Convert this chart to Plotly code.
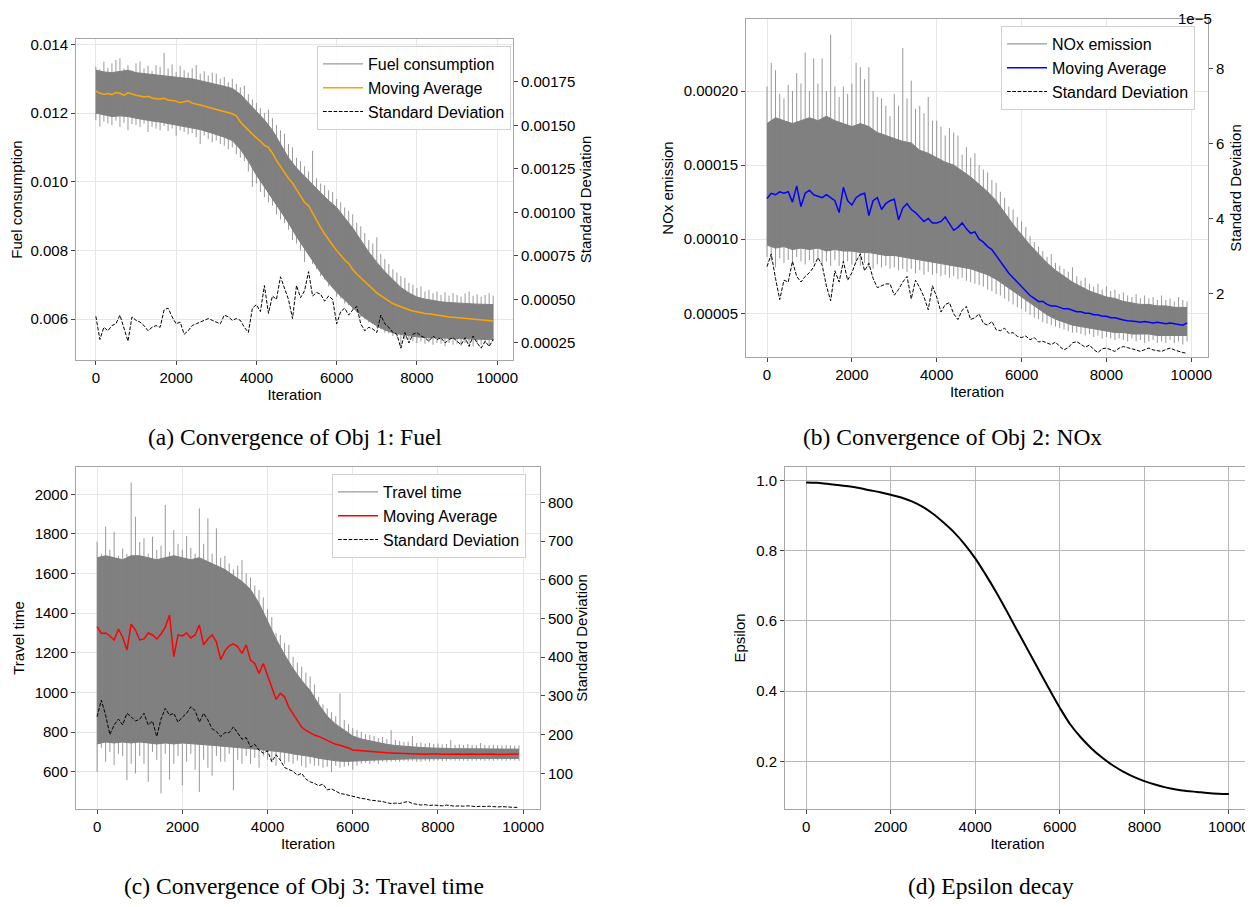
import plotly.graph_objects as go

# iteration grids
it200 = list(range(0, 9801, 200)) + [9900]
it100 = list(range(0, 9901, 100))
eps_iter = list(range(0, 10001, 250))

# ---- (a) fuel ----
# dense core of the raw series (every 200 iterations)
fuel_upper = [0.01325, 0.01320, 0.01318, 0.01322, 0.01325, 0.01318, 0.01315, 0.01312, 0.01310, 0.01308,
              0.01305, 0.01302, 0.01300, 0.01295, 0.01290, 0.01283, 0.01278, 0.01272, 0.01255, 0.01230,
              0.01205, 0.01180, 0.01150, 0.01110, 0.01070, 0.01040, 0.01015, 0.00990, 0.00968, 0.00945,
              0.00925, 0.00895, 0.00865, 0.00830, 0.00795, 0.00765, 0.00738, 0.00715, 0.00692, 0.00676,
              0.00664, 0.00658, 0.00653, 0.00650, 0.00648, 0.00646, 0.00645, 0.00644, 0.00643, 0.00642, 0.00642]
fuel_lower = [0.01200, 0.01195, 0.01190, 0.01192, 0.01190, 0.01185, 0.01180, 0.01177, 0.01174, 0.01170,
              0.01166, 0.01162, 0.01158, 0.01152, 0.01145, 0.01138, 0.01130, 0.01120, 0.01095, 0.01060,
              0.01020, 0.00985, 0.00950, 0.00915, 0.00880, 0.00840, 0.00805, 0.00770, 0.00735, 0.00705,
              0.00678, 0.00655, 0.00633, 0.00612, 0.00595, 0.00580, 0.00568, 0.00560, 0.00555, 0.00551,
              0.00548, 0.00546, 0.00545, 0.00544, 0.00543, 0.00542, 0.00542, 0.00541, 0.00541, 0.00540, 0.00540]
# spike extremes of the raw series (every 100 iterations)
fuel_max = [0.01335, 0.01328, 0.01350, 0.01332, 0.01345, 0.01355, 0.01360, 0.01330, 0.01340, 0.01325,
            0.01345, 0.01350, 0.01330, 0.01338, 0.01322, 0.01340, 0.01335, 0.01375, 0.01330, 0.01342,
            0.01320, 0.01338, 0.01325, 0.01318, 0.01330, 0.01340, 0.01315, 0.01322, 0.01310, 0.01318,
            0.01315, 0.01300, 0.01305, 0.01290, 0.01300, 0.01285, 0.01275, 0.01280, 0.01255, 0.01240,
            0.01230, 0.01215, 0.01200, 0.01210, 0.01185, 0.01165, 0.01150, 0.01140, 0.01110, 0.01100,
            0.01070, 0.01060, 0.01045, 0.01030, 0.01090, 0.01010, 0.00995, 0.00990, 0.00975, 0.00970,
            0.00950, 0.00940, 0.00925, 0.00915, 0.00905, 0.00880, 0.00870, 0.00850, 0.00830, 0.00820,
            0.00838, 0.00790, 0.00775, 0.00760, 0.00745, 0.00735, 0.00725, 0.00720, 0.00705, 0.00700,
            0.00690, 0.00695, 0.00680, 0.00685, 0.00675, 0.00680, 0.00670, 0.00678, 0.00668, 0.00675,
            0.00670, 0.00665, 0.00675, 0.00680, 0.00668, 0.00672, 0.00665, 0.00670, 0.00675, 0.00668]
fuel_min = [0.01180, 0.01160, 0.01175, 0.01170, 0.01165, 0.01178, 0.01160, 0.01172, 0.01150, 0.01168,
            0.01165, 0.01160, 0.01170, 0.01145, 0.01160, 0.01155, 0.01150, 0.01162, 0.01148, 0.01155,
            0.01135, 0.01150, 0.01145, 0.01138, 0.01142, 0.01130, 0.01110, 0.01135, 0.01125, 0.01115,
            0.01120, 0.01110, 0.01105, 0.01095, 0.01100, 0.01080, 0.01070, 0.01060, 0.01030, 0.00985,
            0.00995, 0.00970, 0.00955, 0.00940, 0.00930, 0.00905, 0.00890, 0.00880, 0.00860, 0.00830,
            0.00820, 0.00800, 0.00766, 0.00790, 0.00760, 0.00745, 0.00725, 0.00715, 0.00695, 0.00690,
            0.00665, 0.00660, 0.00645, 0.00640, 0.00625, 0.00620, 0.00605, 0.00600, 0.00590, 0.00585,
            0.00575, 0.00570, 0.00560, 0.00558, 0.00550, 0.00548, 0.00515, 0.00540, 0.00538, 0.00535,
            0.00530, 0.00535, 0.00528, 0.00532, 0.00525, 0.00530, 0.00528, 0.00520, 0.00530, 0.00525,
            0.00528, 0.00522, 0.00530, 0.00525, 0.00520, 0.00528, 0.00525, 0.00530, 0.00522, 0.00535]
fuel_ma = [0.01264, 0.01258, 0.01255, 0.01257, 0.01254, 0.01260, 0.01258, 0.01252, 0.01259, 0.01255,
           0.01252, 0.01250, 0.01247, 0.01249, 0.01244, 0.01242, 0.01241, 0.01243, 0.01238, 0.01237,
           0.01235, 0.01230, 0.01232, 0.01236, 0.01229, 0.01227, 0.01224, 0.01221, 0.01217, 0.01214,
           0.01210, 0.01208, 0.01205, 0.01200, 0.01198, 0.01192, 0.01175, 0.01162, 0.01150, 0.01140,
           0.01128, 0.01118, 0.01106, 0.01100, 0.01083, 0.01062, 0.01044, 0.01028, 0.01010, 0.00996,
           0.00978, 0.00958, 0.00940, 0.00930, 0.00908, 0.00888, 0.00867, 0.00848, 0.00830, 0.00815,
           0.00800, 0.00785, 0.00772, 0.00762, 0.00744, 0.00731, 0.00720, 0.00709, 0.00697, 0.00687,
           0.00676, 0.00668, 0.00660, 0.00652, 0.00645, 0.00640, 0.00635, 0.00631, 0.00627, 0.00623,
           0.00620, 0.00618, 0.00616, 0.00615, 0.00613, 0.00610, 0.00609, 0.00608, 0.00606, 0.00605,
           0.00604, 0.00603, 0.00602, 0.00600, 0.00600, 0.00599, 0.00598, 0.00597, 0.00596, 0.00594]
fuel_std = [0.000403, 0.00027, 0.00034, 0.00032, 0.00035, 0.00036, 0.00041, 0.00033, 0.00026, 0.00040,
            0.00038, 0.00037, 0.00035, 0.00032, 0.00034, 0.00035, 0.00034, 0.00044, 0.00045, 0.00040,
            0.00036, 0.00037, 0.00030, 0.00032, 0.00035, 0.00036, 0.00037, 0.00038, 0.00039, 0.00038,
            0.00037, 0.00036, 0.00041, 0.00040, 0.00038, 0.00039, 0.00038, 0.00034, 0.00031, 0.00045,
            0.00047, 0.00043, 0.00058, 0.00042, 0.00052, 0.00050, 0.00063, 0.00056, 0.00050, 0.00039,
            0.00058, 0.00051, 0.00055, 0.00066, 0.00052, 0.00054, 0.00053, 0.00049, 0.00052, 0.00050,
            0.00036, 0.00043, 0.00045, 0.00041, 0.00044, 0.00046, 0.00036, 0.00032, 0.00034, 0.00033,
            0.00031, 0.00041, 0.00036, 0.00034, 0.00031, 0.00030, 0.00022, 0.00031, 0.00025, 0.00030,
            0.00031, 0.00029, 0.00028, 0.00026, 0.00029, 0.00027, 0.00028, 0.00025, 0.00027, 0.00028,
            0.00026, 0.00024, 0.00028, 0.00023, 0.00029, 0.00025, 0.00022, 0.00026, 0.00023, 0.00027]

# ---- (b) NOx ----
nox_upper = [0.000178, 0.000182, 0.000180, 0.000178, 0.000180, 0.000182, 0.000180, 0.000183, 0.000180, 0.000178,
             0.000176, 0.000178, 0.000176, 0.000172, 0.000170, 0.000168, 0.000166, 0.000165, 0.000160, 0.000158,
             0.000155, 0.000152, 0.000150, 0.000146, 0.000142, 0.000137, 0.000132, 0.000126, 0.000118, 0.000110,
             0.000103, 0.000096, 0.000090, 0.000084, 0.000079, 0.000075, 0.000071, 0.000068, 0.000065, 0.000063,
             0.000061, 0.000060, 0.000058, 0.000057, 0.000056, 0.000056, 0.000055, 0.000055, 0.000054, 0.000054, 0.000054]
nox_lower = [0.000096, 0.000094, 0.000095, 0.000093, 0.000094, 0.000093, 0.000094, 0.000092, 0.000093, 0.000092,
             0.000092, 0.000091, 0.000091, 0.000090, 0.000089, 0.000089, 0.000088, 0.000087, 0.000086, 0.000085,
             0.000084, 0.000083, 0.000082, 0.000081, 0.000080, 0.000078, 0.000076, 0.000073, 0.000069, 0.000065,
             0.000061, 0.000057, 0.000053, 0.000049, 0.000046, 0.000044, 0.000042, 0.000041, 0.000040, 0.000039,
             0.000038, 0.000037, 0.000037, 0.000036, 0.000036, 0.000036, 0.000035, 0.000035, 0.000035, 0.000035, 0.000035]
nox_max = [0.000203, 0.000219, 0.000214, 0.000198, 0.000195, 0.000204, 0.000200, 0.000212, 0.000205, 0.000226,
           0.000200, 0.000222, 0.000205, 0.000222, 0.000200, 0.000238, 0.000203, 0.000196, 0.000203, 0.000198,
           0.000205, 0.000219, 0.000216, 0.000208, 0.000216, 0.000200, 0.000196, 0.000195, 0.000190, 0.000183,
           0.000198, 0.000190, 0.000229, 0.000195, 0.000207, 0.000188, 0.000190, 0.000185, 0.000196, 0.000180,
           0.000180, 0.000176, 0.000170, 0.000175, 0.000172, 0.000170, 0.000157, 0.000162, 0.000155, 0.000158,
           0.000150, 0.000147, 0.000145, 0.000140, 0.000138, 0.000132, 0.000128, 0.000122, 0.000120, 0.000115,
           0.000112, 0.000108, 0.000102, 0.000098, 0.000095, 0.000092, 0.000088, 0.000090, 0.000084, 0.000082,
           0.000080, 0.000078, 0.000081, 0.000075, 0.000072, 0.000074, 0.000070, 0.000068, 0.000070, 0.000066,
           0.000068, 0.000065, 0.000066, 0.000063, 0.000064, 0.000062, 0.000061, 0.000063, 0.000060, 0.000062,
           0.000060, 0.000061, 0.000059, 0.000062, 0.000059, 0.000060, 0.000058, 0.000061, 0.000059, 0.000058]
nox_min = [0.000088, 0.000085, 0.000081, 0.000087, 0.000084, 0.000086, 0.000083, 0.000088, 0.000085, 0.000083,
           0.000086, 0.000084, 0.000087, 0.000083, 0.000085, 0.000082, 0.000086, 0.000082, 0.000084, 0.000085,
           0.000083, 0.000085, 0.000082, 0.000084, 0.000081, 0.000080, 0.000083, 0.000081, 0.000082, 0.000080,
           0.000081, 0.000079, 0.000080, 0.000078, 0.000080, 0.000077, 0.000079, 0.000076, 0.000078, 0.000076,
           0.000077, 0.000075, 0.000076, 0.000074, 0.000075, 0.000073, 0.000074, 0.000072, 0.000071, 0.000070,
           0.000069, 0.000068, 0.000066, 0.000065, 0.000063, 0.000062, 0.000060, 0.000058, 0.000056, 0.000054,
           0.000053, 0.000051, 0.000049, 0.000047, 0.000046, 0.000044, 0.000043, 0.000042, 0.000041, 0.000040,
           0.000039, 0.000038, 0.000037, 0.000037, 0.000036, 0.000035, 0.000036, 0.000034, 0.000035, 0.000033,
           0.000034, 0.000033, 0.000032, 0.000033, 0.000032, 0.000031, 0.000033, 0.000031, 0.000032, 0.000030,
           0.000031, 0.000032, 0.000030, 0.000031, 0.000030, 0.000032, 0.000030, 0.000031, 0.000029, 0.000031]
nox_ma = [0.0001275, 0.000131, 0.000130, 0.000132, 0.000131, 0.000132, 0.000125, 0.000136, 0.000122, 0.000131,
          0.000133, 0.000130, 0.000129, 0.000128, 0.000130, 0.000128, 0.000126, 0.000118, 0.000135, 0.000126,
          0.000123, 0.000128, 0.000130, 0.000131, 0.000116, 0.000126, 0.000128, 0.000120, 0.000124, 0.000126,
          0.000127, 0.000113, 0.000121, 0.000124, 0.000120, 0.000118, 0.000115, 0.000112, 0.000114, 0.000111,
          0.000111, 0.000112, 0.000115, 0.000110, 0.000106, 0.000108, 0.000111, 0.000107, 0.000104, 0.000105,
          0.000100, 0.000098, 0.000095, 0.000093, 0.000089, 0.000085, 0.000081, 0.000077, 0.000074, 0.000071,
          0.000068, 0.000065, 0.000062, 0.000060, 0.000058, 0.000058, 0.000056, 0.000055, 0.000055, 0.000054,
          0.000053, 0.000053, 0.000052, 0.000051, 0.000051, 0.000050, 0.000050, 0.000049, 0.000049, 0.000048,
          0.000048, 0.000047, 0.000047, 0.000046, 0.0000455, 0.000045, 0.000045, 0.0000445, 0.000044, 0.0000445,
          0.000044, 0.0000435, 0.000044, 0.0000435, 0.000043, 0.0000435, 0.000043, 0.0000425, 0.000042, 0.0000435]
# std in units of 1e-5 (as on the right axis)
nox_std = [2.71, 3.05, 2.40, 1.83, 2.35, 2.30, 2.85, 2.45, 2.30, 2.45,
           2.55, 2.70, 2.95, 2.75, 2.20, 1.80, 2.60, 2.30, 2.85, 2.35,
           2.55, 2.85, 3.05, 2.60, 2.80, 2.40, 2.15, 2.20, 2.25, 2.25,
           1.95, 2.10, 2.30, 2.45, 1.85, 2.35, 2.15, 1.90, 1.56, 2.20,
           1.90, 1.50, 1.70, 1.75, 1.45, 1.30, 1.55, 1.65, 1.30, 1.35,
           1.45, 1.20, 1.15, 1.25, 1.03, 1.00, 1.07, 0.93, 0.95, 0.85,
           0.82, 0.86, 0.76, 0.82, 0.70, 0.72, 0.68, 0.63, 0.70, 0.58,
           0.49, 0.55, 0.68, 0.71, 0.64, 0.56, 0.62, 0.50, 0.42, 0.52,
           0.54, 0.50, 0.45, 0.54, 0.58, 0.55, 0.53, 0.49, 0.45, 0.49,
           0.54, 0.49, 0.46, 0.45, 0.50, 0.54, 0.49, 0.45, 0.42, 0.40]

# ---- (c) travel time ----
tt_upper = [1680, 1690, 1680, 1670, 1690, 1690, 1680, 1670, 1680, 1690,
            1680, 1670, 1680, 1660, 1640, 1620, 1590, 1560, 1520, 1450,
            1360, 1270, 1190, 1120, 1060, 1010, 940, 880, 840, 810,
            780, 765, 755, 745, 738, 732, 728, 725, 722, 720,
            718, 717, 716, 716, 715, 715, 714, 714, 714, 714, 714]
tt_lower = [740, 750, 745, 750, 745, 750, 745, 740, 745, 740,
            745, 740, 738, 735, 732, 728, 725, 720, 716, 712,
            708, 703, 698, 690, 684, 677, 668, 660, 655, 652,
            652, 655, 658, 660, 662, 663, 664, 665, 665, 666,
            666, 667, 667, 667, 667, 667, 667, 667, 667, 667, 667]
tt_max = [1761, 1700, 1837, 1720, 1811, 1690, 1727, 1700, 2059, 1887,
          1760, 1778, 1700, 1786, 1720, 1740, 1946, 1710, 1820, 1750,
          1720, 1790, 1730, 1700, 1929, 1750, 1879, 1700, 1828, 1680,
          1690, 1650, 1620, 1640, 1668, 1600, 1580, 1540, 1517, 1480,
          1420, 1380, 1300, 1290, 1250, 1240, 1180, 1150, 1130, 1100,
          1080, 1040, 978, 940, 920, 900, 880, 995, 860, 840,
          820, 810, 800, 790, 785, 780, 770, 775, 765, 810,
          760, 755, 750, 752, 780, 745, 748, 742, 745, 740,
          742, 738, 740, 760, 736, 738, 735, 740, 736, 734,
          745, 735, 733, 736, 734, 732, 735, 733, 731, 733]
tt_min = [599, 720, 650, 700, 633, 690, 680, 557, 640, 591,
          680, 640, 549, 700, 660, 490, 690, 560, 640, 680,
          532, 650, 690, 610, 498, 660, 620, 580, 680, 650,
          650, 690, 507, 660, 640, 680, 640, 670, 620, 680,
          660, 650, 630, 660, 640, 650, 640, 655, 630, 620,
          640, 630, 630, 620, 625, 599, 630, 620, 625, 630,
          610, 630, 640, 645, 640, 648, 640, 650, 648, 650,
          652, 650, 655, 652, 655, 650, 650, 655, 652, 655,
          656, 654, 655, 657, 655, 655, 656, 654, 656, 655,
          657, 655, 656, 655, 657, 656, 655, 657, 656, 655]
tt_ma = [1332, 1298, 1300, 1285, 1265, 1320, 1280, 1214, 1345, 1315,
         1265, 1270, 1300, 1290, 1270, 1295, 1330, 1390, 1180, 1290,
         1285, 1300, 1275, 1290, 1340, 1240, 1270, 1290, 1255, 1165,
         1210, 1235, 1245, 1230, 1197, 1240, 1163, 1146, 1096, 1146,
         1085, 1030, 965, 995, 978, 925, 890, 855, 825, 808,
         795, 785, 778, 768, 758, 748, 738, 733, 728, 720,
         710, 708, 707, 703, 700, 699, 697, 696, 695, 694,
         693, 692, 692, 690, 689, 691, 690, 688, 689, 690,
         689, 688, 689, 690, 688, 689, 688, 690, 689, 688,
         689, 690, 688, 689, 687, 688, 689, 690, 688, 689]
tt_std = [246, 289, 250, 200, 225, 240, 225, 255, 246, 235,
          240, 255, 225, 235, 195, 240, 268, 250, 255, 232,
          245, 255, 272, 262, 232, 255, 238, 215, 208, 195,
          205, 205, 220, 205, 188, 192, 168, 175, 160, 152,
          158, 130, 148, 134, 115, 110, 105, 95, 100, 85,
          78, 74, 68, 72, 57, 60, 55, 48, 46, 44,
          40, 38, 35, 34, 31, 30, 28, 27, 24, 22,
          23, 22, 25, 27, 22, 19, 18, 19, 17, 18,
          17, 16, 18, 16, 15, 16, 15, 16, 15, 14,
          15, 14, 15, 14, 13, 14, 13, 13, 12, 12]

# ---- (d) epsilon ----
eps = [0.994, 0.993, 0.990, 0.987, 0.983, 0.978, 0.972, 0.966, 0.959, 0.951,
       0.940, 0.925, 0.905, 0.880, 0.852, 0.818, 0.778, 0.731, 0.681, 0.627,
       0.571, 0.516, 0.461, 0.406, 0.353, 0.305, 0.268, 0.237, 0.211, 0.189,
       0.171, 0.156, 0.144, 0.134, 0.126, 0.120, 0.116, 0.113, 0.110, 0.108, 0.107]

GRAY = '#808080'
DASH = '3.7px,1.6px'


def spikes(lo, hi):
    px, py = [], []
    for x, a, b in zip(it100, lo, hi):
        px += [x, x, None]
        py += [a, b, None]
    return px, py


def add_panel(fig, xa, ya, ya2, leg, raw_name, upper, lower, mn, mx, ma, ma_col, std):
    fig.add_trace(go.Scatter(x=it200, y=upper, mode='lines', line=dict(color=GRAY, width=1),
                             name=raw_name, legend=leg, xaxis=xa, yaxis=ya))
    fig.add_trace(go.Scatter(x=it200, y=lower, mode='lines', line=dict(color=GRAY, width=1),
                             fill='tonexty', fillcolor=GRAY, showlegend=False, xaxis=xa, yaxis=ya))
    px, py = spikes(mn, mx)
    fig.add_trace(go.Scatter(x=px, y=py, mode='lines', line=dict(color='rgba(128,128,128,0.8)', width=1),
                             showlegend=False, xaxis=xa, yaxis=ya))
    fig.add_trace(go.Scatter(x=it100, y=ma, mode='lines', line=dict(color=ma_col, width=1.5),
                             name='Moving Average', legend=leg, xaxis=xa, yaxis=ya))
    fig.add_trace(go.Scatter(x=it100, y=std, mode='lines', line=dict(color='black', width=1, dash=DASH),
                             name='Standard Deviation', legend=leg, xaxis=xa, yaxis=ya2))


fig = go.Figure()
add_panel(fig, 'x', 'y', 'y2', 'legend', 'Fuel consumption', fuel_upper, fuel_lower,
          fuel_min, fuel_max, fuel_ma, '#FFA500', fuel_std)
add_panel(fig, 'x2', 'y3', 'y4', 'legend2', 'NOx emission', nox_upper, nox_lower,
          nox_min, nox_max, nox_ma, '#0000FF', nox_std)
add_panel(fig, 'x3', 'y5', 'y6', 'legend3', 'Travel time', tt_upper, tt_lower,
          tt_min, tt_max, tt_ma, '#FF0000', tt_std)
fig.add_trace(go.Scatter(x=eps_iter, y=eps, mode='lines', line=dict(color='black', width=2, shape='spline'),
                         showlegend=False, xaxis='x4', yaxis='y7'))

# page body has an 8px margin, so the figure is shifted by that much
PAD = 8
W, H = 1253 - PAD, 907 - PAD


def xd(a, b):
    return [(a - PAD) / W, min(1, (b - PAD) / W)]


def yd(top, bottom):
    return [1 - (bottom - PAD) / H, 1 - (top - PAD) / H]


def px_(x, y):
    return (x - PAD) / W, 1 - (y - PAD) / H


FRAME = '#a6a6a6'
base = dict(showline=True, mirror=True, linecolor=FRAME, linewidth=1, ticks='outside', ticklen=4,
            tickcolor='#444', gridcolor='#e6e6e6', zeroline=False, automargin=False,
            title_font=dict(size=15))
right = dict(showgrid=False, showline=False, ticks='outside', ticklen=4, tickcolor='#444',
             zeroline=False, side='right', automargin=False, title_font=dict(size=15))
xt = dict(tickvals=[0, 2000, 4000, 6000, 8000, 10000], tickformat='d',
          title_text='Iteration', title_standoff=4)

fig.update_layout(
    width=W, height=H, margin=dict(l=0, r=0, t=0, b=0),
    paper_bgcolor='white', plot_bgcolor='white',
    font=dict(family='Liberation Sans, Arial, sans-serif', size=15, color='black'),
    xaxis=dict(base, **xt, domain=xd(76, 513), anchor='y', range=[-495, 10394]),
    yaxis=dict(base, domain=yd(39, 360), anchor='x', range=[0.004805, 0.01416],
               tickvals=[0.006, 0.008, 0.010, 0.012, 0.014], tickformat='.3f',
               title_text='Fuel consumption', title_standoff=6),
    yaxis2=dict(right, overlaying='y', anchor='x', range=[0.000152, 0.001997],
                tickvals=[0.00025, 0.0005, 0.00075, 0.001, 0.00125, 0.0015, 0.00175], tickformat='.5f',
                title_text='Standard Deviation', title_standoff=6),
    xaxis2=dict(base, **xt, domain=xd(746, 1208), anchor='y3', range=[-495, 10394]),
    yaxis3=dict(base, domain=yd(19, 357), anchor='x2', range=[0.0000205, 0.0002486],
                tickvals=[0.00005, 0.0001, 0.00015, 0.0002], tickformat='.5f',
                title_text='NOx emission', title_standoff=6),
    yaxis4=dict(right, overlaying='y3', anchor='x2', range=[0.301, 9.315], tickvals=[2, 4, 6, 8],
                title_text='Standard Deviation', title_standoff=7),
    xaxis3=dict(base, **xt, domain=xd(76, 540), anchor='y5', range=[-495, 10394]),
    yaxis5=dict(base, domain=yd(467, 809), anchor='x3', range=[411.7, 2137.8],
                tickvals=[600, 800, 1000, 1200, 1400, 1600, 1800, 2000],
                title_text='Travel time', title_standoff=6),
    yaxis6=dict(right, overlaying='y5', anchor='x3', range=[7.8, 891.2],
                tickvals=[100, 200, 300, 400, 500, 600, 700, 800],
                title_text='Standard Deviation', title_standoff=4),
    xaxis4=dict(base, **xt, domain=xd(785, 1250), anchor='y7', range=[-500, 10500], gridcolor='#b8b8b8'),
    yaxis7=dict(base, domain=yd(467, 809), anchor='x4', range=[0.0645, 1.038],
                tickvals=[0.2, 0.4, 0.6, 0.8, 1.0], tickformat='.1f', gridcolor='#b8b8b8',
                title_text='Epsilon', title_standoff=6),
)

leg = dict(bgcolor='rgba(255,255,255,0.85)', bordercolor='#d0d0d0', borderwidth=1,
           font=dict(size=16), xanchor='left', yanchor='top', traceorder='normal', itemwidth=40)
lx1, ly1 = px_(317, 46)
lx2, ly2 = px_(1001, 26)
lx3, ly3 = px_(332, 474)
fig.update_layout(
    legend=dict(leg, x=lx1, y=ly1),
    legend2=dict(leg, x=lx2, y=ly2),
    legend3=dict(leg, x=lx3, y=ly3),
)

cap = dict(family='Liberation Serif, Times New Roman, serif', size=23.5, color='black')
for txt, cx, cy in [('(a) Convergence of Obj 1: Fuel', 295, 437),
                    ('(b) Convergence of Obj 2: NOx', 952, 437),
                    ('(c) Convergence of Obj 3: Travel time', 304, 886),
                    ('(d) Epsilon decay', 991, 886)]:
    ax, ay = px_(cx, cy)
    fig.add_annotation(text=txt, x=ax, y=ay, xref='paper', yref='paper',
                       showarrow=False, font=cap, xanchor='center', yanchor='middle')
ex, _ = px_(1214, 11)
fig.add_annotation(text='1e\u22125', x=ex, y=1, xref='paper', yref='paper',
                   showarrow=False, xanchor='right', yanchor='top', font=dict(size=15))

fig.write_html("out.html")
